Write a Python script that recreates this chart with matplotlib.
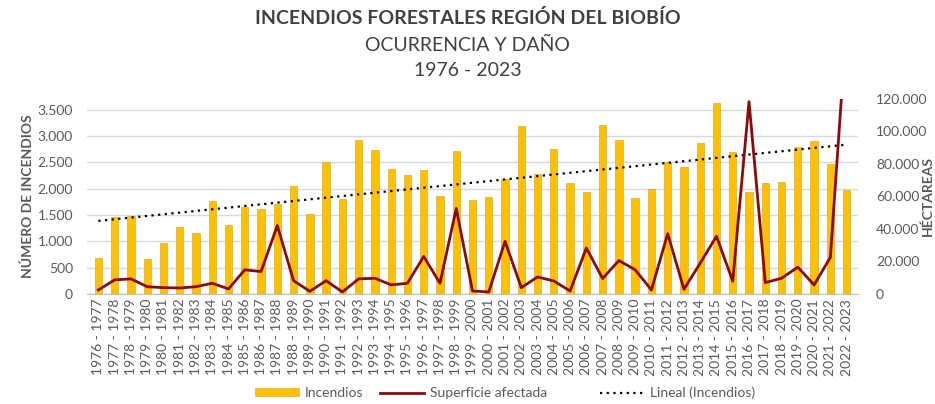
import numpy as np
import matplotlib
matplotlib.use("Agg")
import matplotlib.pyplot as plt
from matplotlib.lines import Line2D
from matplotlib.patches import Patch

plt.rcParams['font.family'] = ['Lato', 'DejaVu Sans']

# temporadas 1976-1977 ... 2022-2023
temporadas = [f"{a} - {a + 1}" for a in range(1976, 2023)]

incendios = [690, 1470, 1490, 660, 964, 1274, 1154, 1775, 1306, 1655,
             1623, 1705, 2060, 1515, 2505, 1807, 2935, 2733, 2371, 2263,
             2358, 1858, 2714, 1788, 1839, 2181, 3189, 2276, 2752, 2105,
             1940, 3214, 2923, 1826, 2003, 2517, 2416, 2872, 3639, 2701,
             1946, 2106, 2130, 2790, 2904, 2473, 1984]

superficie = [2500, 8700, 9300, 4500, 3900, 3700, 4500, 6600, 3100, 14900,
              13800, 42100, 8200, 1650, 8200, 1240, 9300, 9700, 5600, 6600,
              23100, 6600, 52600, 1860, 1240, 32400, 3900, 10500, 8000, 1860,
              28300, 9500, 20600, 14900, 2500, 37100, 2900, 19000, 35500, 7900,
              118400, 7000, 9700, 16500, 5600, 22500, 167000]

gris = '#595959'
x = np.arange(len(temporadas))

fig = plt.figure(figsize=(9.35, 4.04), dpi=100)
ax = fig.add_axes([87 / 935, 1 - 294 / 404, (858 - 87) / 935, (294 - 99) / 404])
ax2 = ax.twinx()

ax.bar(x, incendios, width=0.45, color='#FFC000', edgecolor='#C9A227', linewidth=0.4, zorder=2)

# linea de tendencia (Lineal)
m, b = np.polyfit(x, incendios, 1)
ax.plot(x, m * x + b, color='black', linestyle=(0, (1, 2)), linewidth=1.6, zorder=4)

ax2.plot(x, superficie, color='#8B0A0A', linewidth=2.0, zorder=5)

ax.set_xlim(-0.7, len(x) - 0.3)
ax.set_ylim(0, 3707)
ax.set_yticks(range(0, 3501, 500))
ax.set_yticklabels([f"{v:,}".replace(",", ".") for v in range(0, 3501, 500)])
ax2.set_ylim(0, 120000)
ax2.set_yticks(range(0, 120001, 20000))
ax2.set_yticklabels([f"{v:,}".replace(",", ".") for v in range(0, 120001, 20000)])

ax.set_xticks(x)
ax.set_xticklabels(temporadas, rotation=90, fontsize=8.5, color=gris)
ax.grid(axis='y', color='#D9D9D9', linewidth=1, zorder=0)
ax.set_axisbelow(True)

for a in (ax, ax2):
    for s in a.spines.values():
        s.set_visible(False)
    a.tick_params(length=0, labelsize=10, colors=gris)
ax.spines['bottom'].set_visible(True)
ax.spines['bottom'].set_color('#BFBFBF')
ax.tick_params(axis='y', pad=10)
ax2.tick_params(axis='y', pad=13)

ax.set_ylabel('NÚMERO DE INCENDIOS', fontsize=10, fontweight='bold', color=gris, va='center')
ax.yaxis.set_label_coords((28 - 87) / 771, 0.5)
ax2.set_ylabel('HÉCTAREAS', fontsize=10, fontweight='bold', color=gris, va='center')
ax2.yaxis.set_label_coords((928 - 87) / 771, 0.5)

fig.text(0.5, 1 - 18 / 404, 'INCENDIOS FORESTALES REGIÓN DEL BIOBÍO', ha='center', va='center',
         fontsize=14, fontweight='bold', color='#404040')
fig.text(0.5, 1 - 45 / 404, 'OCURRENCIA Y DAÑO', ha='center', va='center', fontsize=14, color='#404040')
fig.text(0.5, 1 - 71 / 404, '1976 - 2023', ha='center', va='center', fontsize=14, color='#404040')

# leyenda: una entrada por posicion
entradas = [(Patch(facecolor='#FFC000', edgecolor='#C9A227', linewidth=0.4), 'Incendios', 255),
            (Line2D([], [], color='#8B0A0A', linewidth=2.0), 'Superficie afectada', 380),
            (Line2D([], [], color='black', linestyle=(0, (1, 2)), linewidth=1.6), 'Lineal (Incendios)', 600)]
for h, txt, px in entradas:
    fig.legend([h], [txt], loc='center left', bbox_to_anchor=(px / 935, 1 - 393 / 404),
               frameon=False, fontsize=10, labelcolor=gris, handlelength=3.2, handleheight=0.5,
               handletextpad=0.4, borderpad=0, borderaxespad=0)

fig.savefig('out.png', dpi=100)
